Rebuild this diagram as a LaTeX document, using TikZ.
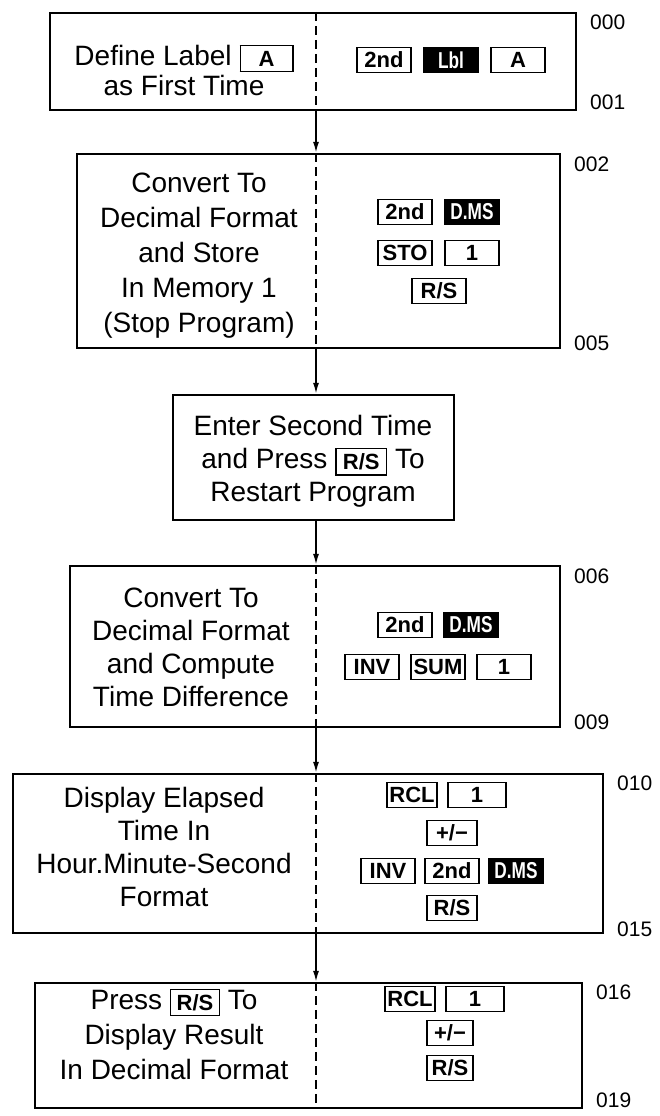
\documentclass[tikz,border=0pt]{standalone}
\usepackage{fontspec}
\setmainfont{Liberation Sans}
\newfontfamily\blackfam[FakeStretch=0.75]{Liberation Sans}
\usetikzlibrary{arrows.meta}

% key caption fonts and an inline key for running text
\newcommand{\keyfont}{\fontsize{22}{22}\selectfont\bfseries}
\newcommand{\blackfont}{\blackfam\fontsize{23}{23}\selectfont\bfseries}
\newcommand{\inkey}[2][54pt]{\raisebox{-6pt}{\setlength{\fboxsep}{0pt}\setlength{\fboxrule}{1.4pt}\framebox[#1]{\rule{0pt}{25pt}\raisebox{4.6pt}{\keyfont #2}}}}

\tikzset{
  box/.style={draw, line width=2.4pt, inner sep=0pt},
  txt/.style={align=center, inner sep=0pt},
  keybox/.style={draw, line width=1.4pt, minimum width=54pt, minimum height=25pt, inner sep=0pt, font=\keyfont},
  keyblack/.style={keybox, fill=black, text=white, font=\blackfont},
  num/.style={anchor=west, inner sep=0pt, font=\fontsize{21}{21}\selectfont},
  divider/.style={line width=1.6pt, dash pattern=on 9pt off 5pt},
  flow/.style={line width=1.5pt, -{Latex[length=11pt,width=6pt]}}
}

\begin{document}
\begin{tikzpicture}[x=1pt,y=-1pt]
\fill[white] (0,0) rectangle (659,1116);
\useasboundingbox (0,0) rectangle (659,1116);

\coordinate (axis) at (316,0);

% ---- step boxes ----
\node[box, minimum width=526pt, minimum height=97pt]  (b1) at (313,61.5)   {};
\node[box, minimum width=483pt, minimum height=194pt] (b2) at (318.5,251)  {};
\node[box, minimum width=281pt, minimum height=125pt] (b3) at (313.5,457.5){};
\node[box, minimum width=490pt, minimum height=161pt] (b4) at (315,646.5)  {};
\node[box, minimum width=590pt, minimum height=159pt] (b5) at (308,853.5)  {};
\node[box, minimum width=547pt, minimum height=125pt] (b6) at (308.5,1045.5){};

% ---- dashed dividers ----
\foreach \b in {b1,b2,b4,b5,b6}
  \draw[divider] (\b.north -| axis) -- (\b.south -| axis);

% ---- flow arrows ----
\draw[flow] (b1.south -| axis) -- (b2.north -| axis);
\draw[flow] (b2.south -| axis) -- (b3.north -| axis);
\draw[flow] (b3.south -| axis) -- (b4.north -| axis);
\draw[flow] (b4.south -| axis) -- (b5.north -| axis);
\draw[flow] (b5.south -| axis) -- (b6.north -| axis);

% ---- descriptions ----
\node[txt, font=\fontsize{28}{30}\selectfont] (t1) at (184,70)
  {Define Label \inkey{A}\\as First Time};
\node[txt, font=\fontsize{28}{35}\selectfont] (t2) at (199,256)
  {Convert To\\Decimal Format\\and Store\\In Memory 1\\(Stop Program)};
\node[txt, font=\fontsize{28}{33}\selectfont] (t3) at (313,461)
  {Enter Second Time\\and Press \inkey[52pt]{R/S} To\\Restart Program};
\node[txt, font=\fontsize{28}{33}\selectfont] (t4) at (191,647)
  {Convert To\\Decimal Format\\and Compute\\Time Difference};
\node[txt, font=\fontsize{28}{33}\selectfont] (t5) at (164,847)
  {Display Elapsed\\Time In\\Hour.Minute-Second\\Format};
\node[txt, font=\fontsize{28}{35}\selectfont] (t6) at (174,1034)
  {Press \inkey[50pt]{R/S} To\\Display Result\\In Decimal Format};

% ---- keystrokes ----
\node[keybox]   (k1a) at (384,60) {2nd};
\node[keyblack] (k1b) at (451,60) {Lbl};
\node[keybox]   (k1c) at (518,60) {A};

\node[keybox]   (k2a) at (405,212) {2nd};
\node[keyblack] (k2b) at (472,212) {D.MS};
\node[keybox]   (k2c) at (405,253) {STO};
\node[keybox]   (k2d) at (472,253) {1};
\node[keybox]   (k2e) at (439,291) {R/S};

\node[keybox]   (k4a) at (405,625) {2nd};
\node[keyblack] (k4b) at (471,625) {D.MS};
\node[keybox]   (k4c) at (372,667) {INV};
\node[keybox]   (k4d) at (438,667) {SUM};
\node[keybox]   (k4e) at (504,667) {1};

\node[keybox, minimum width=50pt] (k5a) at (412,795) {RCL};
\node[keybox, minimum width=58pt] (k5b) at (477,795) {1};
\node[keybox, minimum width=50pt] (k5c) at (452,833) {+/−};
\node[keybox]   (k5d) at (388,871) {INV};
\node[keybox]   (k5e) at (452,871) {2nd};
\node[keyblack] (k5f) at (516,871) {D.MS};
\node[keybox, minimum width=50pt] (k5g) at (452,908) {R/S};

\node[keybox, minimum width=50pt] (k6a) at (410,999) {RCL};
\node[keybox, minimum width=58pt] (k6b) at (475,999) {1};
\node[keybox, minimum width=46pt] (k6c) at (450,1033) {+/−};
\node[keybox, minimum width=46pt] (k6d) at (450,1068) {R/S};

% ---- program step numbers ----
\node[num] (n000) at (590,22)   {000};
\node[num] (n001) at (590,102)  {001};
\node[num] (n002) at (574,164)  {002};
\node[num] (n005) at (574,343)  {005};
\node[num] (n006) at (574,576)  {006};
\node[num] (n009) at (574,722)  {009};
\node[num] (n010) at (617,783)  {010};
\node[num] (n015) at (617,929)  {015};
\node[num] (n016) at (596,992)  {016};
\node[num] (n019) at (596,1100) {019};
\end{tikzpicture}
\end{document}
